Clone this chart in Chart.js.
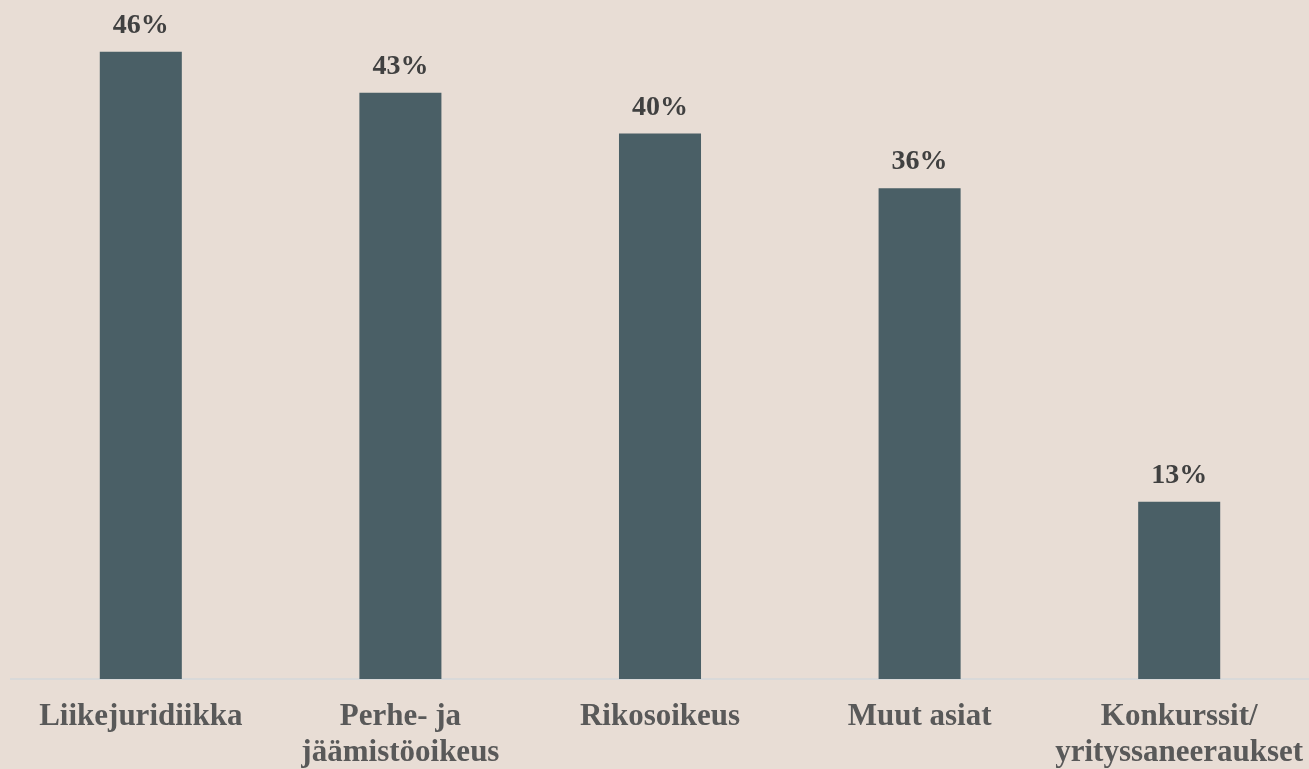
<!DOCTYPE html>
<html>
<head>
<meta charset="utf-8">
<script src="https://cdn.jsdelivr.net/npm/chart.js@4/dist/chart.umd.min.js"></script>
<style>
html,body{margin:0;padding:0;background:#e8ddd5;}
#wrap{width:1309px;height:769px;}
canvas{display:block;background:#e8ddd5;}
</style>
</head>
<body>
<div id="wrap"><canvas id="c" width="1309" height="769"></canvas></div>
<script>
const categories = [
  "Liikejuridiikka",
  ["Perhe- ja", "jäämistöoikeus"],
  "Rikosoikeus",
  "Muut asiat",
  ["Konkurssit/", "yrityssaneeraukset"]
];
const values = [46, 43, 40, 36, 13];

const FONT = "'Liberation Serif', 'DejaVu Serif', serif";

const valueLabels = {
  id: 'valueLabels',
  afterDatasetsDraw(chart) {
    const ctx = chart.ctx;
    const meta = chart.getDatasetMeta(0);
    ctx.save();
    ctx.font = "bold 28px " + FONT;
    ctx.fillStyle = "#404040";
    ctx.textAlign = "center";
    ctx.textBaseline = "alphabetic";
    meta.data.forEach((bar, i) => {
      ctx.fillText(values[i] + "%", bar.x, bar.y - 19);
    });
    ctx.restore();
  }
};

new Chart(document.getElementById('c'), {
  type: 'bar',
  data: {
    labels: categories,
    datasets: [{
      data: values,
      backgroundColor: '#4a5f66',
      borderWidth: 0,
      barPercentage: 0.316,
      categoryPercentage: 1.0
    }]
  },
  options: {
    responsive: false,
    animation: false,
    layout: { padding: { left: 11, right: 0, top: 0, bottom: 0 } },
    plugins: { legend: { display: false }, tooltip: { enabled: false } },
    scales: {
      y: { display: false, min: 0, max: 49.8 },
      x: {
        grid: { display: false, drawTicks: false },
        border: { display: true, color: '#d9d9d9', width: 2 },
        ticks: {
          color: '#595959',
          font: { family: FONT, size: 31, weight: 'bold', lineHeight: 1.17 },
          padding: 20,
          maxRotation: 0,
          autoSkip: false
        },
        afterFit(scale) {
          scale.height = 90;
          scale.paddingLeft = 0;
          scale.paddingRight = 0;
        }
      }
    }
  },
  plugins: [valueLabels]
});
</script>
</body>
</html>
